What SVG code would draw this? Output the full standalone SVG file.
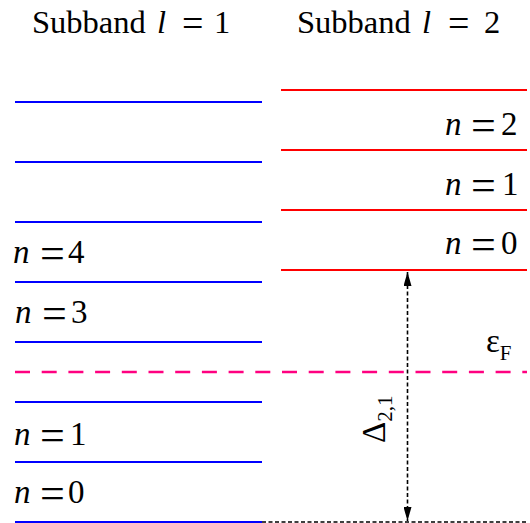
<svg xmlns="http://www.w3.org/2000/svg" width="530" height="523" viewBox="0 0 530 523">
<style>
text{font-family:"Liberation Serif","Times New Roman",serif;font-size:33px;fill:#000}
.t{font-size:32.5px}
.i{font-style:italic}
.eq{font-size:44px}
.teq{font-size:38px}
.sub{font-size:21px}
.blue{stroke:#0000ff;stroke-width:2.2;fill:none}
.red{stroke:#ff0000;stroke-width:2.2;fill:none}
.fermi{stroke:#ff0080;stroke-width:2.5;stroke-dasharray:15 11.7;fill:none}
.conn{stroke:#000;stroke-width:1.6;stroke-dasharray:4 2.5;fill:none}
</style>
<defs>
<marker id="ah" viewBox="0 0 14 8" refX="14" refY="4" markerWidth="14" markerHeight="8" markerUnits="userSpaceOnUse" orient="auto-start-reverse">
<path d="M0,0 L14,4 L0,8 Z" fill="#000"/>
</marker>
</defs>
<g id="titles">
<text class="t" x="32" y="33">Subband</text><text class="t i" x="157" y="33">l</text><text class="teq" x="182" y="36">=</text><text class="t" x="214" y="33">1</text>
<text class="t" x="297" y="33">Subband</text><text class="t i" x="422" y="33">l</text><text class="teq" x="448" y="36">=</text><text class="t" x="484" y="33">2</text>
</g>
<g id="subband1">
<line class="blue" x1="15" y1="102" x2="262" y2="102"/>
<line class="blue" x1="15" y1="162" x2="262" y2="162"/>
<line class="blue" x1="15" y1="222" x2="262" y2="222"/>
<line class="blue" x1="15" y1="282" x2="262" y2="282"/>
<line class="blue" x1="15" y1="342" x2="262" y2="342"/>
<line class="blue" x1="15" y1="402" x2="262" y2="402"/>
<line class="blue" x1="15" y1="462" x2="262" y2="462"/>
<line class="blue" x1="15" y1="522" x2="262" y2="522"/>
<text class="i" x="13" y="263">n</text><text class="eq" x="40" y="267.5">=</text><text x="68" y="263">4</text>
<text class="i" x="15" y="323">n</text><text class="eq" x="42" y="327.5">=</text><text x="71" y="323">3</text>
<text class="i" x="14" y="445">n</text><text class="eq" x="40" y="449.5">=</text><text x="70" y="445">1</text>
<text class="i" x="14" y="503">n</text><text class="eq" x="40" y="507.5">=</text><text x="68" y="503">0</text>
</g>
<g id="subband2">
<line class="red" x1="281" y1="90" x2="527" y2="90"/>
<line class="red" x1="281" y1="150" x2="527" y2="150"/>
<line class="red" x1="281" y1="210" x2="527" y2="210"/>
<line class="red" x1="281" y1="270" x2="527" y2="270"/>
<text class="i" x="445" y="135">n</text><text class="eq" x="471" y="139.5">=</text><text x="501" y="135">2</text>
<text class="i" x="445" y="195">n</text><text class="eq" x="471" y="199.5">=</text><text x="502" y="195">1</text>
<text class="i" x="445" y="254">n</text><text class="eq" x="471" y="258.5">=</text><text x="501" y="254">0</text>
</g>
<g id="fermi">
<line class="fermi" x1="15" y1="372" x2="527" y2="372"/>
<text x="486" y="352">ε<tspan class="sub" dy="8">F</tspan></text>
</g>
<g id="connectors">
<line class="conn" x1="262" y1="522" x2="527" y2="522"/>
<line class="conn" x1="407.5" y1="272" x2="407.5" y2="521" marker-start="url(#ah)" marker-end="url(#ah)"/>
</g>
<g id="gap-label">
<text transform="translate(385,443) rotate(-90)">Δ<tspan class="sub" dy="7">2,1</tspan></text>
</g>
</svg>
